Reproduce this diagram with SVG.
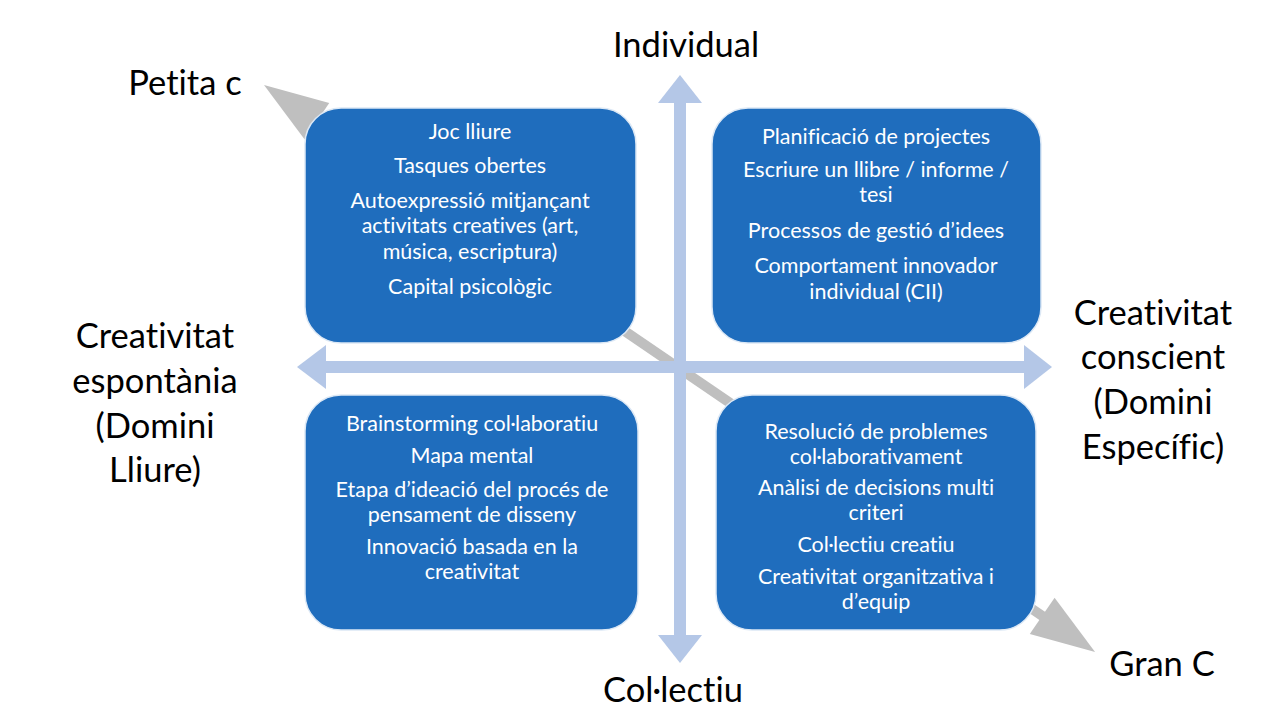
<svg xmlns="http://www.w3.org/2000/svg" width="1280" height="720" viewBox="0 0 1280 720">
<style>
.box{fill:#1f6dbd;stroke:#dce8f5;stroke-width:1.5}
.bt{font-family:Lato,"Liberation Sans",sans-serif;font-size:21.5px;fill:#ffffff;text-anchor:middle;font-variant-ligatures:none}
.lbl{font-family:Lato,"Liberation Sans",sans-serif;font-size:34.5px;fill:#000000;text-anchor:middle;font-variant-ligatures:none}
.axis{fill:#b4c7e7}
.diag{fill:#bfbfbf}
</style>
<rect width="1280" height="720" fill="#ffffff"/>
<g id="connectors">
  <g id="diagonal" transform="translate(264,85) rotate(34.3)">
    <rect class="diag" x="60" y="-5" width="886" height="10"/>
    <polygon class="diag" points="0,0 64,-22 64,22"/>
    <polygon class="diag" points="1006,0 942,-22 942,22"/>
  </g>
  <g id="vertical-axis">
    <rect class="axis" x="674" y="100" width="12" height="538"/>
    <polygon class="axis" points="680,75 702,103 658,103"/>
    <polygon class="axis" points="680,663 702,635 658,635"/>
  </g>
  <g id="horizontal-axis">
    <rect class="axis" x="322" y="361" width="706" height="12"/>
    <polygon class="axis" points="297,367 326,345 326,389"/>
    <polygon class="axis" points="1052,367 1024,345 1024,389"/>
  </g>
</g>
<g id="box-tl">
  <rect class="box" x="305" y="108" width="331" height="235" rx="36"/>
  <text class="bt" x="470" y="139">Joc lliure</text>
  <text class="bt" x="470" y="173">Tasques obertes</text>
  <text class="bt" x="470" y="208">Autoexpressió mitjançant</text>
  <text class="bt" x="470" y="233">activitats creatives (art,</text>
  <text class="bt" x="470" y="259">música, escriptura)</text>
  <text class="bt" x="470" y="294">Capital psicològic</text>
</g>
<g id="box-tr">
  <rect class="box" x="712" y="108" width="329" height="235" rx="36"/>
  <text class="bt" x="876" y="144">Planificació de projectes</text>
  <text class="bt" x="876" y="177">Escriure un llibre / informe /</text>
  <text class="bt" x="876" y="202">tesi</text>
  <text class="bt" x="876" y="238">Processos de gestió d’idees</text>
  <text class="bt" x="876" y="273">Comportament innovador</text>
  <text class="bt" x="876" y="299">individual (CII)</text>
</g>
<g id="box-bl">
  <rect class="box" x="305" y="395" width="333" height="235" rx="36"/>
  <text class="bt" x="472" y="431">Brainstorming col·laboratiu</text>
  <text class="bt" x="472" y="463">Mapa mental</text>
  <text class="bt" x="472" y="497">Etapa d’ideació del procés de</text>
  <text class="bt" x="472" y="522">pensament de disseny</text>
  <text class="bt" x="472" y="554">Innovació basada en la</text>
  <text class="bt" x="472" y="579">creativitat</text>
</g>
<g id="box-br">
  <rect class="box" x="716" y="395" width="320" height="235" rx="36"/>
  <text class="bt" x="876" y="439">Resolució de problemes</text>
  <text class="bt" x="876" y="464">col·laborativament</text>
  <text class="bt" x="876" y="495">Anàlisi de decisions multi</text>
  <text class="bt" x="876" y="520">criteri</text>
  <text class="bt" x="876" y="552">Col·lectiu creatiu</text>
  <text class="bt" x="876" y="584">Creativitat organitzativa i</text>
  <text class="bt" x="876" y="609">d’equip</text>
</g>
<g id="labels">
  <text class="lbl" x="686" y="57">Individual</text>
  <text class="lbl" x="185" y="95">Petita c</text>
  <text class="lbl" x="155" y="348">Creativitat</text>
  <text class="lbl" x="155" y="393">espontània</text>
  <text class="lbl" x="155" y="438">(Domini</text>
  <text class="lbl" x="155" y="482">Lliure)</text>
  <text class="lbl" x="1153" y="325">Creativitat</text>
  <text class="lbl" x="1153" y="369">conscient</text>
  <text class="lbl" x="1153" y="414">(Domini</text>
  <text class="lbl" x="1153" y="459">Específic)</text>
  <text class="lbl" x="673" y="702">Col·lectiu</text>
  <text class="lbl" x="1162" y="676">Gran C</text>
</g>
</svg>
